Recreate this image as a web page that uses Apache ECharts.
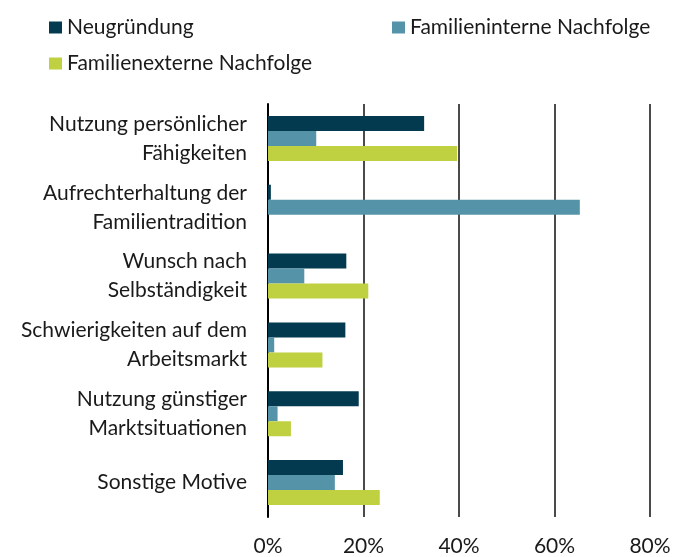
<!DOCTYPE html>
<html><head><meta charset="utf-8">
<script src="https://cdn.jsdelivr.net/npm/echarts@6/dist/echarts.min.js"></script>
<style>html,body{margin:0;padding:0;background:#fff}#c{width:684px;height:557px}</style>
</head><body><div id="c"></div>
<script>
const categories = [
  "Nutzung persönlicher\nFähigkeiten",
  "Aufrechterhaltung der\nFamilientradition",
  "Wunsch nach\nSelbständigkeit",
  "Schwierigkeiten auf dem\nArbeitsmarkt",
  "Nutzung günstiger\nMarktsituationen",
  "Sonstige Motive"
];
const seriesNames = ["Neugründung", "Familieninterne Nachfolge", "Familienexterne Nachfolge"];
const neugruendung = [32.7, 0.6, 16.4, 16.2, 19.0, 15.7];
const familienintern = [10.1, 65.3, 7.6, 1.3, 2.0, 14.0];
const familienextern = [39.6, 0, 21.0, 11.4, 4.8, 23.4];
const xTicks = [0, 20, 40, 60, 80];
const colors = ["#033a4f", "#5593a8", "#bfd041"];

const FONT = "Lato";
const chart = echarts.init(document.getElementById('c'));
const legendBase = {itemWidth: 13, itemHeight: 12, itemGap: 0, icon: 'rect',
  textStyle: {fontFamily: FONT, fontSize: 21, color: '#1a1a1a'}};
chart.setOption({
  animation: false,
  color: colors,
  legend: [
    Object.assign({}, legendBase, {data: [seriesNames[0]], left: 44, top: 12}),
    Object.assign({}, legendBase, {data: [seriesNames[1]], left: 387, top: 12}),
    Object.assign({}, legendBase, {data: [seriesNames[2]], left: 44, top: 48})
  ],
  grid: {left: 268, right: 34, top: 104, bottom: 40, containLabel: false},
  xAxis: {
    type: 'value', min: xTicks[0], max: xTicks[xTicks.length-1], interval: 20,
    axisLine: {show: false}, axisTick: {show: false},
    splitLine: {show: true, lineStyle: {color: '#4a4a4a', width: 2}},
    axisLabel: {formatter: '{value}%', fontFamily: FONT, fontSize: 21, color: '#1a1a1a', margin: 19}
  },
  yAxis: {
    type: 'category', data: categories, inverse: true,
    axisLine: {show: true, lineStyle: {color: '#000', width: 2}},
    axisTick: {show: false},
    axisLabel: {fontFamily: FONT, fontSize: 21, color: '#1a1a1a', margin: 21, lineHeight: 29, align: 'right', padding: [4, 0, 0, 0]}
  },
  series: [
    {name: seriesNames[0], type: 'bar', data: neugruendung, barWidth: 15, barGap: '0%'},
    {name: seriesNames[1], type: 'bar', data: familienintern, barWidth: 15, barGap: '0%'},
    {name: seriesNames[2], type: 'bar', data: familienextern, barWidth: 15, barGap: '0%'}
  ]
});
</script></body></html>
